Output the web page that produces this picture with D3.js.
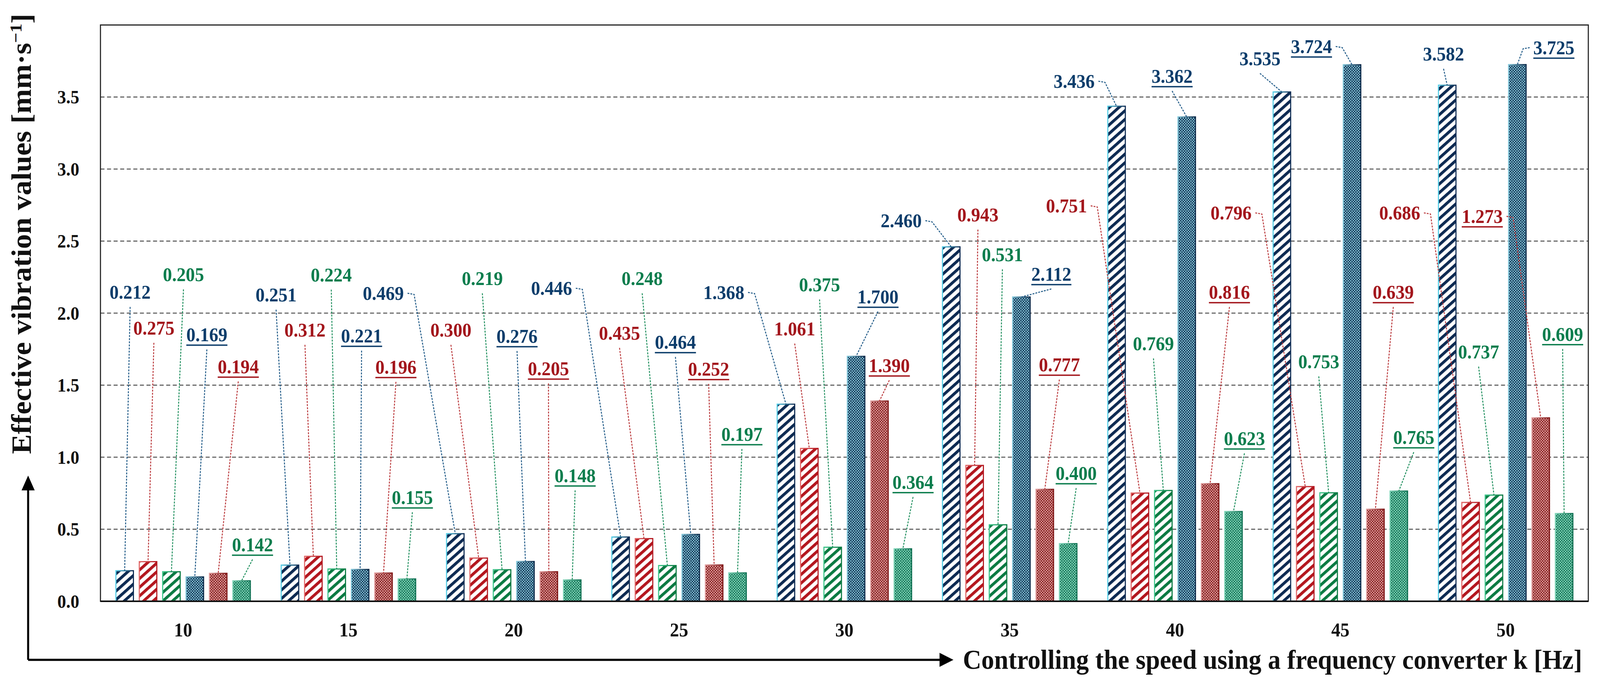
<!DOCTYPE html>
<html lang="en">
<head>
<meta charset="UTF-8">
<script src="https://d3js.org/d3.v7.min.js"></script>
<style>
    html, body { margin: 0; padding: 0; background: #ffffff; overflow: hidden; }
    #viz { display: block; width: 100vw; height: 100vh; }
    svg text { font-family: "Liberation Serif", "DejaVu Serif", serif; font-weight: bold; }
</style>
</head>
<body>
<svg id="viz" viewBox="0 0 4380 1757" preserveAspectRatio="none"></svg>
<script>
    // frequency steps on the x axis [Hz]
    var freqs = ["10", "15", "20", "25", "30", "35", "40", "45", "50"];
    var yTicks = [0, 0.5, 1, 1.5, 2, 2.5, 3, 3.5];

    // effective vibration values [mm/s], six measurements per frequency
    var hatchBlue  = [0.212, 0.251, 0.469, 0.446, 1.368, 2.460, 3.436, 3.535, 3.582];
    var hatchRed   = [0.275, 0.312, 0.300, 0.435, 1.061, 0.943, 0.751, 0.796, 0.686];
    var hatchGreen = [0.205, 0.224, 0.219, 0.248, 0.375, 0.531, 0.769, 0.753, 0.737];
    var checkBlue  = [0.169, 0.221, 0.276, 0.464, 1.700, 2.112, 3.362, 3.724, 3.725];
    var checkRed   = [0.194, 0.196, 0.205, 0.252, 1.390, 0.777, 0.816, 0.639, 1.273];
    var checkGreen = [0.142, 0.155, 0.148, 0.197, 0.364, 0.400, 0.623, 0.765, 0.609];
    var series = [hatchBlue, hatchRed, hatchGreen, checkBlue, checkRed, checkGreen];

    // where the value labels sit: x shift from bar centre (px), height in axis units,
    // and which side of the label the leader line leaves from
    var labelDx = [
        [15, -38, -197, -189, -170, -137, -116, -60, -10],
        [16, -23, -76, -67, -40, 9, -201, -203, -194],
        [33, -15, -54, -69, -36, 12, -27, -27, -42],
        [33, 4, -23, -42, 60, 82, -40, -111, 100],
        [55, 34, -1, -15, 27, 40, 53, 49, -160],
        [30, 15, 8, 12, 28, 22, 30, 41, -4]
    ];
    var labelLevel = [
        [2.146, 2.127, 2.138, 2.173, 2.144, 2.642, 3.610, 3.767, 3.799],
        [1.897, 1.883, 1.883, 1.862, 1.892, 2.683, 2.745, 2.696, 2.696],
        [2.268, 2.266, 2.241, 2.241, 2.198, 2.407, 1.789, 1.664, 1.732],
        [1.851, 1.843, 1.840, 1.799, 2.114, 2.271, 3.645, 3.851, 3.843],
        [1.629, 1.626, 1.615, 1.612, 1.637, 1.642, 2.146, 2.146, 2.672],
        [0.393, 0.721, 0.873, 1.160, 0.827, 0.889, 1.130, 1.138, 1.854]
    ];
    var leaderSide = [
        "bbrrrrrbb",
        "bbbbbbrrr",
        "bbbbbbbbb",
        "bbbbbbbrl",
        "bbbbbbbbr",
        "bbbbbbbbb"
    ];

    var ink    = ["#0c3d6b", "#a3161c", "#0b7d4d", "#0c3d6b", "#a3161c", "#0b7d4d"];
    var dark   = ["#0d2a52", "#b3161e", "#0a7a42", "#0b2848", "#7e1414", "#0c6e50"];
    var light  = ["#56cfe8", "#e26a6a", "#3fc78c", "#86c9dc", "#e2a2a2", "#86d8bc"];
    var leadCl = ["#215b88", "#bb3a3d", "#21905f", "#215b88", "#bb3a3d", "#21905f"];

    var svg = d3.select("#viz");
    var W = 4380, H = 1757;
    var margin = {top: 64, right: 32, bottom: 217, left: 275};
    var width = W - margin.left - margin.right,
        height = H - margin.top - margin.bottom;

    var x0 = d3.scaleBand().domain(freqs).range([margin.left, margin.left + width]).padding(0);
    var x1 = d3.scaleBand().domain(d3.range(6)).range([0, x0.bandwidth()])
        .paddingInner(0.25).paddingOuter(0.66);
    var y = d3.scaleLinear().domain([0, 4]).range([margin.top + height, margin.top]);

    // fills: diagonal hatches and fine checkers, edges shaded light -> dark
    var defs = svg.append("defs");
    series.forEach(function(s, k) {
        var grad = defs.append("linearGradient").attr("id", "edge" + k)
            .attr("x1", "0").attr("x2", "1").attr("y1", "0").attr("y2", "0");
        grad.append("stop").attr("offset", "0").attr("stop-color", light[k]);
        grad.append("stop").attr("offset", "1").attr("stop-color", dark[k]);

        var p;
        if (k < 3) {
            p = defs.append("pattern").attr("id", "fill" + k)
                .attr("patternUnits", "userSpaceOnUse")
                .attr("width", 17).attr("height", 17)
                .attr("patternTransform", "rotate(50)");
            p.append("rect").attr("width", 17).attr("height", 17).attr("fill", "#ffffff");
            p.append("rect").attr("width", 7.5).attr("height", 17).attr("fill", dark[k]);
        } else {
            p = defs.append("pattern").attr("id", "fill" + k)
                .attr("patternUnits", "userSpaceOnUse")
                .attr("width", 7).attr("height", 7);
            p.append("rect").attr("width", 7).attr("height", 7).attr("fill", light[k]);
            p.append("rect").attr("width", 3.5).attr("height", 3.5).attr("fill", dark[k]);
            p.append("rect").attr("x", 3.5).attr("y", 3.5).attr("width", 3.5).attr("height", 3.5).attr("fill", dark[k]);
        }
    });

    // grid
    svg.append("g").selectAll("line")
        .data(yTicks.filter(function(d) { return d > 0; }))
        .enter().append("line")
        .attr("x1", margin.left).attr("x2", margin.left + width)
        .attr("y1", function(d) { return y(d); })
        .attr("y2", function(d) { return y(d); })
        .attr("stroke", "#6a6a6a")
        .attr("stroke-width", 3)
        .attr("stroke-dasharray", "11,7");

    // frame
    svg.append("rect")
        .attr("x", margin.left).attr("y", margin.top)
        .attr("width", width).attr("height", height)
        .attr("fill", "none").attr("stroke", "#222222").attr("stroke-width", 3);

    // bars
    var cells = [];
    series.forEach(function(s, k) {
        s.forEach(function(v, i) {
            cells.push({k: k, i: i, v: v,
                cx: x0(freqs[i]) + x1(k) + x1.bandwidth() / 2,
                dx: labelDx[k][i], lev: labelLevel[k][i], side: leaderSide[k][i]});
        });
    });

    svg.append("g").selectAll("rect")
        .data(cells)
        .enter().append("rect")
        .attr("x", function(d) { return x0(freqs[d.i]) + x1(d.k); })
        .attr("y", function(d) { return y(d.v); })
        .attr("width", x1.bandwidth())
        .attr("height", function(d) { return y(0) - y(d.v); })
        .attr("fill", function(d) { return "url(#fill" + d.k + ")"; })
        .attr("stroke", function(d) { return "url(#edge" + d.k + ")"; })
        .attr("stroke-width", 3);

    // x axis baseline
    svg.append("line")
        .attr("x1", margin.left).attr("x2", margin.left + width)
        .attr("y1", y(0)).attr("y2", y(0))
        .attr("stroke", "#111111").attr("stroke-width", 4);

    // value labels
    var fmt = d3.format(".3f");
    var lab = svg.append("g").selectAll("g")
        .data(cells)
        .enter().append("g");

    lab.append("text")
        .attr("x", function(d) { return d.cx + d.dx; })
        .attr("y", function(d) { return y(d.lev) + 17; })
        .attr("text-anchor", "middle")
        .attr("font-size", 50)
        .attr("fill", function(d) { return ink[d.k]; })
        .text(function(d) { return fmt(d.v); });

    lab.each(function(d) {
        var g = d3.select(this);
        var w = g.select("text").node().getComputedTextLength();
        var lx = d.cx + d.dx, ly = y(d.lev);
        if (d.k >= 3) {
            g.append("line")
                .attr("x1", lx - w / 2).attr("x2", lx + w / 2)
                .attr("y1", ly + 27).attr("y2", ly + 27)
                .attr("stroke", ink[d.k]).attr("stroke-width", 3.5);
        }
        var pts;
        if (d.side === "r") {
            var xr = lx + w / 2 + 10;
            pts = [[xr, ly], [xr + 18, ly + 3], [d.cx, y(d.v)]];
        } else if (d.side === "l") {
            var xl = lx - w / 2 - 10;
            pts = [[xl, ly], [xl - 18, ly + 3], [d.cx, y(d.v)]];
        } else {
            pts = [[lx, ly + 38], [d.cx, y(d.v)]];
        }
        g.insert("path", "text")
            .attr("d", d3.line()(pts))
            .attr("fill", "none")
            .attr("stroke", leadCl[d.k])
            .attr("stroke-width", 2.6)
            .attr("stroke-dasharray", "5,3");
    });

    // y tick labels
    svg.append("g").selectAll("text")
        .data(yTicks)
        .enter().append("text")
        .attr("x", 217)
        .attr("y", function(d) { return y(d); })
        .attr("dy", "0.35em")
        .attr("text-anchor", "end")
        .attr("font-size", 48)
        .attr("fill", "#111111")
        .text(function(d) { return d3.format(".1f")(d); });

    // x tick labels
    svg.append("g").selectAll("text")
        .data(freqs)
        .enter().append("text")
        .attr("x", function(d) { return x0(d) + x0.bandwidth() / 2; })
        .attr("y", 1630)
        .attr("text-anchor", "middle")
        .attr("font-size", 50)
        .attr("fill", "#111111")
        .text(function(d) { return d; });

    // arrows
    var arrows = svg.append("g");
    arrows.append("path")
        .attr("d", "M77,1690 L77,1248 M77,1690 L2578,1690")
        .attr("fill", "none").attr("stroke", "#000000").attr("stroke-width", 5.5);
    arrows.append("path")
        .attr("d", "M77,1218 L59,1256 L95,1256 Z M2610,1690 L2572,1672 L2572,1708 Z")
        .attr("fill", "#000000");

    // axis titles
    var yt = svg.append("text")
        .attr("transform", "translate(85,599) rotate(-90)")
        .attr("text-anchor", "middle")
        .attr("font-size", 76)
        .attr("fill", "#111111");
    yt.append("tspan").text("Effective vibration values [mm\u00b7s");
    yt.append("tspan").attr("dy", -26).attr("font-size", 46).text("\u22121");
    yt.append("tspan").attr("dy", 26).text("]");

    svg.append("text")
        .attr("x", 2636)
        .attr("y", 1713)
        .attr("font-size", 70)
        .attr("fill", "#111111")
        .text("Controlling the speed using a frequency converter k [Hz]");
</script>
</body>
</html>
